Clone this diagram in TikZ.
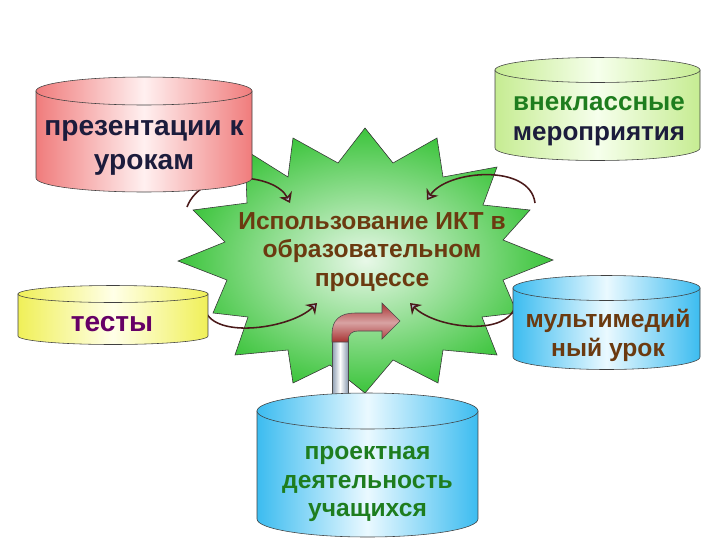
\documentclass[tikz,border=0pt]{standalone}
\usepackage{fontspec}
\setmainfont{Liberation Sans}
\usetikzlibrary{arrows.meta,shapes,positioning}

\definecolor{pinkedge}{HTML}{F07C7C}
\definecolor{pinkmid}{HTML}{FFF0F0}
\definecolor{greenedge}{HTML}{C6EC92}
\definecolor{greenmid}{HTML}{F6FFEC}
\definecolor{yellowedge}{HTML}{F0F058}
\definecolor{yellowmid}{HTML}{FFFFE8}
\definecolor{blueedge}{HTML}{3CBCF0}
\definecolor{bluemid}{HTML}{EAF9FF}
\definecolor{stargreen}{HTML}{3CC43C}
\definecolor{starlight}{HTML}{E8F8E8}
\definecolor{iktbrown}{HTML}{6B3A10}
\definecolor{navy}{HTML}{1C1C3C}
\definecolor{leafgreen}{HTML}{1E7D1E}
\definecolor{plum}{HTML}{660066}
\definecolor{arcline}{HTML}{4A1A1A}
\definecolor{arcfill}{HTML}{B4C2D2}
\definecolor{arrowred}{HTML}{A83232}
\definecolor{silver}{HTML}{8C9CB0}

\begin{document}
\begin{tikzpicture}[
        x=0.025cm, y=-0.025cm,
        every node/.style={align=center},
        drum/.style={draw=black!75, left color=#1edge, right color=#1edge, middle color=#1mid},
        arcarrow/.style={draw=arcline, line width=1.1pt, -{Stealth[length=7pt,width=10pt,fill=arcfill]}},
        big/.style={font=\bfseries\fontsize{20}{24}\selectfont},
        mid/.style={font=\bfseries\fontsize{17.5}{20.5}\selectfont}
    ]
    \useasboundingbox (0,0) rectangle (720,540);

    % Star
    \path[draw=black!80, inner color=starlight, outer color=stargreen]
        (365,128) -- (393,163) -- (437,138) -- (443,177) -- (497,167) -- (483,205)
        -- (530,210) -- (503,240) -- (553,260) -- (503,280) -- (517,313) -- (482,317)
        -- (497,355) -- (443,350) -- (438,383) -- (393,360) -- (365,393) -- (330,365)
        -- (293,383) -- (288,350) -- (235,355) -- (248,317) -- (213,313) -- (227,280)
        -- (178,261) -- (225,242) -- (193,210) -- (247,203) -- (245,150) -- (288,177)
        -- (293,138) -- (338,163) -- cycle;

    % Edges
    \coordinate (tl) at (187,207);
    \coordinate (tlend) at (290,203);
    \coordinate (tr) at (535,203);
    \coordinate (trend) at (427,200);
    \coordinate (bl) at (205,310);
    \coordinate (blend) at (317,303);
    \coordinate (br) at (515,307);
    \coordinate (brend) at (410,303);

    \draw[arcarrow] (tl) .. controls +(15,-40) and +(-15,-30) .. (tlend);
    \draw[arcarrow] (tr) .. controls +(-5,-40) and +(20,-30) .. (trend);
    \draw[arcarrow] (bl) .. controls +(10,30) and +(-25,25) .. (blend);
    \draw[arcarrow] (br) .. controls +(-10,30) and +(25,25) .. (brend);

    % Big arrow
    \path[draw=black!70, left color=silver, right color=silver, middle color=white]
        (332,338) rectangle (348,410);
    \path[draw=black!70, top color=arrowred, bottom color=arrowred, middle color=arrowred!45!white]
        (332,342) -- (332,334) .. controls (332,320) and (340,313) .. (355,313)
        -- (382,313) -- (382,303) -- (400,321) -- (382,339) -- (382,331) -- (358,331)
        .. controls (352,331) and (348,334) .. (348,341) -- (348,342) -- cycle;

    % Drums
    \path[drum=pink] (36,91) -- (36,178) arc[start angle=180, end angle=0, x radius=108, y radius=14] -- (252,91) -- cycle;
    \path[drum=pink] (144,91) ellipse[x radius=108, y radius=14];
    \path[drum=green] (495,70) -- (495,148) arc[start angle=180, end angle=0, x radius=102.5, y radius=12.5] -- (700,70) -- cycle;
    \path[drum=green] (597.5,70) ellipse[x radius=102.5, y radius=12.5];
    \path[drum=yellow] (18,294) -- (18,336) arc[start angle=180, end angle=0, x radius=95, y radius=8.5] -- (208,294) -- cycle;
    \path[drum=yellow] (113,294) ellipse[x radius=95, y radius=8.5];
    \path[drum=blue] (513,288) -- (513,357) arc[start angle=180, end angle=0, x radius=93.5, y radius=12.5] -- (700,288) -- cycle;
    \path[drum=blue] (606.5,288) ellipse[x radius=93.5, y radius=12.5];
    \path[drum=blue] (257,411) -- (257,519) arc[start angle=180, end angle=0, x radius=110.5, y radius=18] -- (478,411) -- cycle;
    \path[drum=blue] (367.5,411) ellipse[x radius=110.5, y radius=18];

    % Nodes
    \node (pres) [big, text=navy] at (144,148) {презентации к\\урокам};
    \node (extra) [mid, text=navy, font=\bfseries\fontsize{18.5}{21}\selectfont] at (599,121) {\color{leafgreen}внеклассные\\мероприятия};
    \node (tests) [big, text=plum] at (112,324) {тесты};
    \node (media) [mid, text=iktbrown] at (608,335) {мультимедий\\ный урок};
    \node (project) [mid, text=leafgreen] at (367.5,484) {проектная\\деятельность\\учащихся};
    \node (ikt) [mid, text=iktbrown] at (372,252) {Использование ИКТ в\\образовательном\\процессе};

\end{tikzpicture}
\end{document}
